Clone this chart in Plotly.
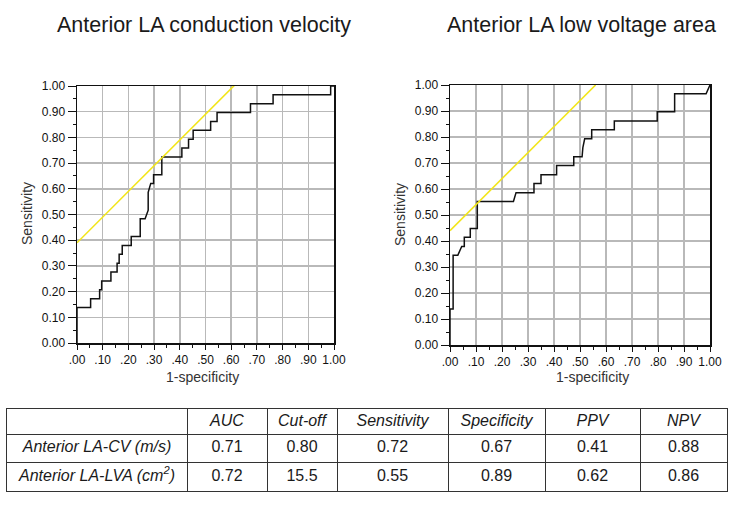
import plotly.graph_objects as go

W, H = 744, 505

# ---------------- data ----------------
cv_title = "Anterior LA conduction velocity"
lva_title = "Anterior LA low voltage area"

cv_fpr = [0, 0, 0.053, 0.053, 0.088, 0.088, 0.096, 0.096, 0.132, 0.132, 0.156, 0.156,
          0.164, 0.164, 0.176, 0.176, 0.211, 0.211, 0.246, 0.246, 0.265, 0.277, 0.277,
          0.283, 0.287, 0.298, 0.298, 0.330, 0.330, 0.408, 0.408, 0.434, 0.434, 0.452,
          0.452, 0.520, 0.520, 0.545, 0.545, 0.675, 0.675, 0.763, 0.763, 0.987, 0.987, 1.0]
cv_tpr = [0, 0.138, 0.138, 0.172, 0.172, 0.207, 0.207, 0.241, 0.241, 0.276, 0.276, 0.310,
          0.310, 0.345, 0.345, 0.379, 0.379, 0.414, 0.414, 0.483, 0.483, 0.517, 0.586,
          0.610, 0.621, 0.621, 0.655, 0.655, 0.724, 0.724, 0.759, 0.759, 0.793, 0.793,
          0.828, 0.828, 0.862, 0.862, 0.897, 0.897, 0.931, 0.931, 0.966, 0.966, 1.0, 1.0]

lva_fpr = [0, 0, 0.012, 0.012, 0.030, 0.045, 0.055, 0.055, 0.078, 0.078, 0.105, 0.105,
           0.244, 0.254, 0.323, 0.323, 0.350, 0.350, 0.410, 0.410, 0.476, 0.476, 0.508,
           0.511, 0.518, 0.545, 0.545, 0.632, 0.632, 0.797, 0.797, 0.864, 0.864, 0.985, 1.0]
lva_tpr = [0, 0.138, 0.138, 0.345, 0.345, 0.379, 0.379, 0.414, 0.414, 0.448, 0.448, 0.552,
           0.552, 0.586, 0.586, 0.621, 0.621, 0.655, 0.655, 0.690, 0.690, 0.724, 0.724,
           0.759, 0.793, 0.793, 0.828, 0.828, 0.862, 0.862, 0.897, 0.897, 0.966, 0.966, 1.0]

# Youden reference lines (endpoints)
cv_ref_x = [0.0, 0.62]
cv_ref_y = [0.39, 1.01]
lva_ref_x = [0.0, 0.56]
lva_ref_y = [0.44, 1.00]

x_tick_vals = [0, 0.1, 0.2, 0.3, 0.4, 0.5, 0.6, 0.7, 0.8, 0.9, 1.0]
x_tick_text = [".00", ".10", ".20", ".30", ".40", ".50", ".60", ".70", ".80", ".90", "1.00"]
y_tick_vals = [0, 0.1, 0.2, 0.3, 0.4, 0.5, 0.6, 0.7, 0.8, 0.9, 1.0]
y_tick_text = ["0.00", "0.10", "0.20", "0.30", "0.40", "0.50", "0.60", "0.70", "0.80", "0.90", "1.00"]

table_header = ["", "AUC", "Cut-off", "Sensitivity", "Specificity", "PPV", "NPV"]
row_labels = ["Anterior LA-CV (m/s)", "Anterior LA-LVA (cm<sup>2</sup>)"]
auc = ["0.71", "0.72"]
cutoff = ["0.80", "15.5"]
sensitivity = ["0.72", "0.55"]
specificity = ["0.67", "0.89"]
ppv = ["0.41", "0.62"]
npv = ["0.88", "0.86"]

# ---------------- layout helpers ----------------
def px(x):
    return x / W

def py(y):
    return 1 - y / H

FONT = "Liberation Sans, Arial, sans-serif"
TXT = "#1a1a1a"

fig = go.Figure()

fig.add_trace(go.Scatter(x=cv_fpr, y=cv_tpr, mode="lines", xaxis="x", yaxis="y",
                         line=dict(color="#111111", width=1.5), showlegend=False, hoverinfo="skip"))
fig.add_trace(go.Scatter(x=cv_ref_x, y=cv_ref_y, mode="lines", xaxis="x", yaxis="y",
                         line=dict(color="#f2e51a", width=1.6), showlegend=False, hoverinfo="skip"))
fig.add_trace(go.Scatter(x=lva_fpr, y=lva_tpr, mode="lines", xaxis="x2", yaxis="y2",
                         line=dict(color="#111111", width=1.5), showlegend=False, hoverinfo="skip"))
fig.add_trace(go.Scatter(x=lva_ref_x, y=lva_ref_y, mode="lines", xaxis="x2", yaxis="y2",
                         line=dict(color="#f2e51a", width=1.6), showlegend=False, hoverinfo="skip"))

# ---------------- table drawn on its own axes ----------------
col_widths = [180, 80, 70, 111, 97, 95, 87]
row_heights = [25, 28, 29]
col_edges = [0]
for w in col_widths:
    col_edges.append(col_edges[-1] + w)
row_edges = [0]
for h in row_heights:
    row_edges.append(row_edges[-1] + h)
col_centers = [(col_edges[i] + col_edges[i + 1]) / 2 for i in range(len(col_widths))]
row_centers = [(row_edges[i] + row_edges[i + 1]) / 2 for i in range(len(row_heights))]

body_columns = [row_labels, auc, cutoff, sensitivity, specificity, ppv, npv]

tx, ty, tt = [], [], []
for c, h in enumerate(table_header):
    if h:
        tx.append(col_centers[c]); ty.append(row_centers[0]); tt.append("<i>" + h + "</i>")
for c, col in enumerate(body_columns):
    for r, v in enumerate(col):
        tx.append(col_centers[c]); ty.append(row_centers[r + 1])
        tt.append("<i>" + v + "</i>" if c == 0 else v)

fig.add_trace(go.Scatter(x=tx, y=ty, text=tt, mode="text", xaxis="x3", yaxis="y3",
                         textposition="middle center",
                         textfont=dict(family=FONT, size=16, color=TXT),
                         showlegend=False, hoverinfo="skip"))

grid = "#b9b9b9"

def xaxis(domain, anchor):
    return dict(domain=domain, anchor=anchor, range=[0, 1], tickmode="array",
                tickvals=x_tick_vals, ticktext=x_tick_text, showgrid=True, gridcolor=grid,
                gridwidth=1.5, zeroline=False, showline=True, mirror=True, linecolor="#111111",
                linewidth=1.5, ticks="outside", ticklen=5, tickcolor="#111111", tickwidth=1,
                tickfont=dict(family=FONT, size=12, color="#111111"), fixedrange=True,
                automargin=False,
                minor=dict(dtick=0.05, tick0=0, ticks="outside", ticklen=3, tickcolor="#111111",
                           showgrid=False))

def yaxis(domain, anchor):
    return dict(domain=domain, anchor=anchor, range=[0, 1], tickmode="array",
                tickvals=y_tick_vals, ticktext=y_tick_text, showgrid=True, gridcolor=grid,
                gridwidth=1.5, zeroline=False, showline=True, mirror=True, linecolor="#111111",
                linewidth=1.5, ticks="outside", ticklen=8, tickcolor="#111111", tickwidth=1,
                tickfont=dict(family=FONT, size=12, color="#111111"), fixedrange=True,
                automargin=False,
                minor=dict(dtick=0.05, tick0=0, ticks="outside", ticklen=3, tickcolor="#111111",
                           showgrid=False))

annotations = [
    dict(text=cv_title, x=px(204), y=py(25), xref="paper", yref="paper", showarrow=False,
         font=dict(family=FONT, size=21.5, color=TXT), xanchor="center", yanchor="middle"),
    dict(text=lva_title, x=px(581), y=py(25), xref="paper", yref="paper", showarrow=False,
         font=dict(family=FONT, size=21.5, color=TXT), xanchor="center", yanchor="middle"),
    dict(text="Sensitivity", x=px(27), y=py(214), xref="paper", yref="paper", showarrow=False,
         textangle=-90, font=dict(family=FONT, size=14, color="#333333"),
         xanchor="center", yanchor="middle"),
    dict(text="Sensitivity", x=px(400), y=py(215), xref="paper", yref="paper", showarrow=False,
         textangle=-90, font=dict(family=FONT, size=14, color="#333333"),
         xanchor="center", yanchor="middle"),
    dict(text="1-specificity", x=px(203), y=py(377), xref="paper", yref="paper", showarrow=False,
         font=dict(family=FONT, size=14, color="#333333"), xanchor="center", yanchor="middle"),
    dict(text="1-specificity", x=px(592), y=py(377), xref="paper", yref="paper", showarrow=False,
         font=dict(family=FONT, size=14, color="#333333"), xanchor="center", yanchor="middle"),
]

tline = "#333333"
fig.update_layout(
    width=W, height=H, margin=dict(l=0, r=0, t=0, b=0, autoexpand=False),
    paper_bgcolor="white", plot_bgcolor="white",
    xaxis=xaxis([px(77), px(334)], "y"),
    yaxis=yaxis([py(343), py(86)], "x"),
    xaxis2=xaxis([px(450), px(710)], "y2"),
    yaxis2=yaxis([py(345), py(85)], "x2"),
    xaxis3=dict(domain=[px(7), px(727)], anchor="y3", range=[0, col_edges[-1]],
                tickmode="array", tickvals=col_edges[1:-1], showgrid=True, gridcolor=tline,
                gridwidth=1, showticklabels=False, ticks="", zeroline=False, showline=True,
                mirror=True, linecolor=tline, linewidth=1, fixedrange=True, automargin=False),
    yaxis3=dict(domain=[py(491), py(409)], anchor="x3", range=[row_edges[-1], 0],
                tickmode="array", tickvals=row_edges[1:-1], showgrid=True, gridcolor=tline,
                gridwidth=1, showticklabels=False, ticks="", zeroline=False, showline=True,
                mirror=True, linecolor=tline, linewidth=1, fixedrange=True, automargin=False),
    annotations=annotations,
    showlegend=False,
)

fig.write_html("out.html", config={"staticPlot": True},
               post_script="document.body.style.margin='0px';document.body.style.padding='0px';")
